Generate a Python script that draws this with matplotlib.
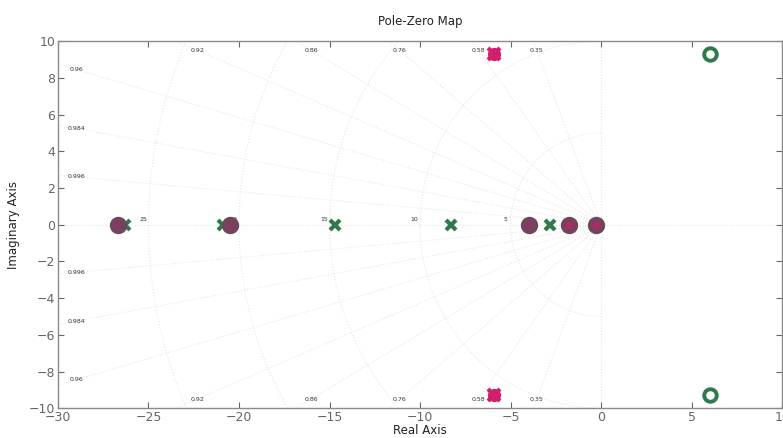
import numpy as np
import matplotlib
matplotlib.use("Agg")
import matplotlib.pyplot as plt

# ──────────────────────────────────────────────
# DATEN
# ──────────────────────────────────────────────

# System A (grün): Pole (x) und Nullstellen (o)
poles_a_re = [-26.3, -20.9, -14.7, -8.3, -2.8]
poles_a_im = [0, 0, 0, 0, 0]
zeros_a_re = [6.0, 6.0]
zeros_a_im = [9.3, -9.3]

# System B (magenta/bordeaux)
circ_b_re = [-26.7, -20.5, -4.0, -1.8, -0.3]
circ_b_im = [0, 0, 0, 0, 0]
cplx_b_re = [-5.9, -5.9]
cplx_b_im = [9.3, -9.3]

# sgrid: Dämpfung und Eigenfrequenz
zeta_vals = [0.35, 0.58, 0.76, 0.86, 0.92, 0.96, 0.984, 0.996]
zeta_labels = ["0.35", "0.58", "0.76", "0.86", "0.92", "0.96", "0.984", "0.996"]
wn_vals = [5, 10, 15, 20, 25]

x_ticks = np.arange(-30, 11, 5)
y_ticks = np.arange(-10, 11, 2)

XMIN, XMAX, YMIN, YMAX = -30, 10, -10, 10

GRID_COL = "#e6e6e6"
LBL_COL = "#333333"
GREEN = "#2f7a4c"
MAROON = "#7d3f5f"
MAGENTA = "#d01f6c"

fig = plt.figure(figsize=(7.83, 4.38), dpi=100)
ax = fig.add_axes([0.074, 0.068, 0.925, 0.838])

# Gitter: Dämpfungsstrahlen
R = 60
for z, lbl in zip(zeta_vals, zeta_labels):
    th = np.arccos(z)
    for s in (1, -1):
        ax.plot([0, -R * np.cos(th)], [0, s * R * np.sin(th)],
                color=GRID_COL, lw=0.8, ls=":", zorder=1)
    t = np.tan(th)
    if t * 30 > 10:
        yl = 9.5
        for s in (1, -1):
            ax.text(-yl / t, s * yl, lbl, fontsize=4.5, color=LBL_COL,
                    ha="center", va="center", zorder=2)
    else:
        xl = -29.0
        for s in (1, -1):
            ax.text(xl, s * (-xl) * t, lbl, fontsize=4.5, color=LBL_COL,
                    ha="center", va="center", zorder=2)

# Gitter: Frequenzkreise
phi = np.linspace(np.pi / 2, 3 * np.pi / 2, 200)
for w in wn_vals:
    ax.plot(w * np.cos(phi), w * np.sin(phi), color=GRID_COL, lw=0.8,
            ls=":", zorder=1)
    ax.text(-w - 0.3, 0.3, str(w), fontsize=4.5, color=LBL_COL,
            ha="center", va="center", zorder=2)

ax.axhline(0, color=GRID_COL, lw=0.8, ls=":", zorder=1)
ax.axvline(0, color=GRID_COL, lw=0.8, ls=":", zorder=1)

# Marker
ax.plot(circ_b_re, circ_b_im, ls="none", marker="o", ms=11,
        mfc=MAROON, mec="#6a4a58", mew=1.5, zorder=4)
ax.plot(circ_b_re[-2:], circ_b_im[-2:], ls="none", marker="o", ms=5,
        mfc=MAGENTA, mec="none", alpha=0.6, zorder=5)
ax.plot(poles_a_re, poles_a_im, ls="none", marker="x", ms=6.5,
        mec=GREEN, mew=3, zorder=3)
ax.plot(zeros_a_re, zeros_a_im, ls="none", marker="o", ms=9,
        mfc="none", mec=GREEN, mew=2.8, zorder=4)
ax.plot(cplx_b_re, cplx_b_im, ls="none", marker="o", ms=8,
        mfc=MAGENTA, mec=MAGENTA, mew=1.5, zorder=4)
ax.plot(cplx_b_re, cplx_b_im, ls="none", marker="x", ms=9,
        mec=MAGENTA, mew=3, zorder=4)

ax.set_xlim(XMIN, XMAX)
ax.set_ylim(YMIN, YMAX)
ax.set_xticks(x_ticks)
ax.set_yticks(y_ticks)
ax.tick_params(direction="in", top=True, right=True, labelsize=9,
               colors="#666666", length=4, pad=2)
for sp in ax.spines.values():
    sp.set_color("#8a8a8a")
    sp.set_linewidth(1.0)

ax.set_title("Pole-Zero Map", fontsize=8.5, color="#222222", pad=12)
ax.set_xlabel("Real Axis", fontsize=8.5, color="#222222", labelpad=0)
ax.set_ylabel("Imaginary Axis", fontsize=8.5, color="#222222", labelpad=6)

fig.savefig("out.png", dpi=100)
